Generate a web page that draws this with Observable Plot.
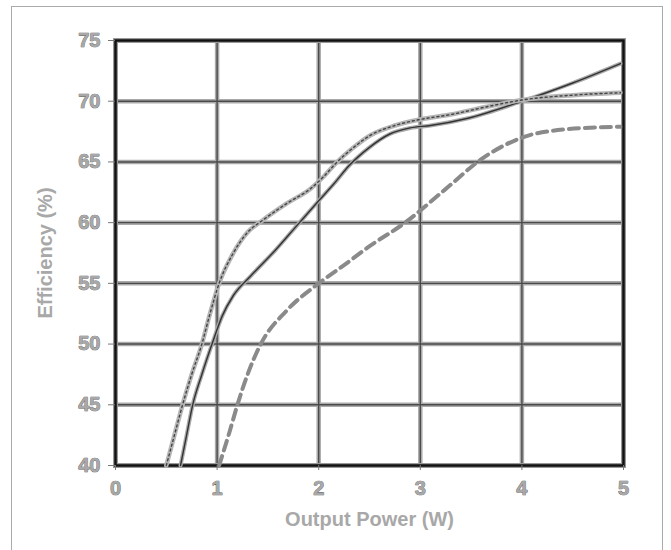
<!DOCTYPE html>
<html>
<head>
<meta charset="utf-8">
<script src="https://cdn.jsdelivr.net/npm/d3@7"></script>
<script src="https://cdn.jsdelivr.net/npm/@observablehq/plot@0.6"></script>
<style>
  html, body { margin: 0; padding: 0; background: #fff; }
  #wrap { position: relative; width: 671px; height: 550px; overflow: hidden; }
  #border { position: absolute; left: 11px; top: 6px; width: 652px; height: 560px;
            border: 1.5px solid #aaa; box-sizing: border-box; }
  #chart { position: absolute; left: 0; top: 0; }
</style>
</head>
<body>
<div id="wrap"><div id="border"></div><div id="chart"></div></div>
<script>
const xTicks = [0, 1, 2, 3, 4, 5];
const yTicks = [40, 45, 50, 55, 60, 65, 70, 75];

// Upper dotted curve
const dottedX = [0.5, 0.58, 0.66, 0.75, 0.85, 0.93, 1.02, 1.16, 1.3, 1.45, 1.69, 1.92, 2.05, 2.17, 2.33, 2.51, 2.75, 3.0, 3.3, 3.63, 4.0, 4.5, 4.97];
const dottedY = [40, 42.5, 45, 47.5, 50, 52.5, 55, 57.5, 59.2, 60.2, 61.6, 62.8, 63.8, 64.9, 66.1, 67.2, 68.0, 68.5, 68.9, 69.5, 70.1, 70.5, 70.7];

// Solid curve
const solidX = [0.64, 0.7, 0.76, 0.85, 0.95, 1.05, 1.16, 1.33, 1.57, 1.8, 2.0, 2.15, 2.3, 2.5, 2.7, 2.9, 3.1, 3.47, 4.0, 4.5, 4.97];
const solidY = [40, 42.5, 45, 47.5, 50, 52.3, 54.0, 55.6, 57.7, 59.9, 61.8, 63.2, 64.7, 66.2, 67.3, 67.8, 68.0, 68.6, 70, 71.5, 73.1];

// Dashed curve
const dashedX = [1.02, 1.12, 1.2, 1.3, 1.43, 1.69, 2.0, 2.25, 2.49, 2.85, 3.24, 3.63, 4.0, 4.45, 4.97];
const dashedY = [40, 42.7, 45, 47.5, 50, 52.8, 55, 56.5, 58, 60, 62.7, 65.4, 67.0, 67.7, 67.9];

const toRows = (xs, ys) => xs.map((x, i) => ({x, y: ys[i]}));
const dotted = toRows(dottedX, dottedY);
const solid = toRows(solidX, solidY);
const dashed = toRows(dashedX, dashedY);

const curve = "monotone-x";

const chart = Plot.plot({
  width: 671,
  height: 550,
  marginLeft: 115,
  marginRight: 48,
  marginTop: 40,
  marginBottom: 85,
  style: {fontFamily: "'Liberation Sans', Arial, sans-serif", fontWeight: "bold", background: "transparent"},
  x: {domain: [0, 5]},
  y: {domain: [40, 75]},
  marks: [
    Plot.gridX(xTicks, {stroke: "#aaa", strokeWidth: 4.5, strokeOpacity: 1}),
    Plot.gridY(yTicks, {stroke: "#aaa", strokeWidth: 4.5, strokeOpacity: 1}),
    Plot.gridX(xTicks, {stroke: "#4a4a4a", strokeWidth: 1.4, strokeOpacity: 1}),
    Plot.gridY(yTicks, {stroke: "#4a4a4a", strokeWidth: 1.4, strokeOpacity: 1}),
    Plot.frame({stroke: "#999", strokeWidth: 5}),
    Plot.frame({stroke: "#111", strokeWidth: 2.5}),
    // dashed
    Plot.line(dashed, {x: "x", y: "y", curve, stroke: "#8a8a8a", strokeWidth: 4, strokeDasharray: "10,6"}),
    // solid
    Plot.line(solid, {x: "x", y: "y", curve, stroke: "#aaa", strokeWidth: 4}),
    Plot.line(solid, {x: "x", y: "y", curve, stroke: "#333", strokeWidth: 1.4}),
    // dotted
    Plot.line(dotted, {x: "x", y: "y", curve, stroke: "#b5b5b5", strokeWidth: 4.5}),
    Plot.line(dotted, {x: "x", y: "y", curve, stroke: "#444", strokeWidth: 1.4, strokeDasharray: "2,3"}),
    Plot.axisY(yTicks, {
      tickSize: 7, tickPadding: 8, fontSize: 20, stroke: "#777",
      fill: "#a8a8a8", textStroke: "#555", textStrokeWidth: 0.7, textStrokeOpacity: 1,
      label: "Efficiency (%)", labelAnchor: "center", labelOffset: 78, labelArrow: "none"
    }),
    Plot.axisX(xTicks, {
      tickSize: 5, tickPadding: 10, fontSize: 20, stroke: "#777",
      fill: "#a8a8a8", textStroke: "#555", textStrokeWidth: 0.7, textStrokeOpacity: 1,
      label: "Output Power (W)", labelAnchor: "center", labelOffset: 60, labelArrow: "none"
    })
  ]
});
document.getElementById("chart").appendChild(chart);
</script>
</body>
</html>
